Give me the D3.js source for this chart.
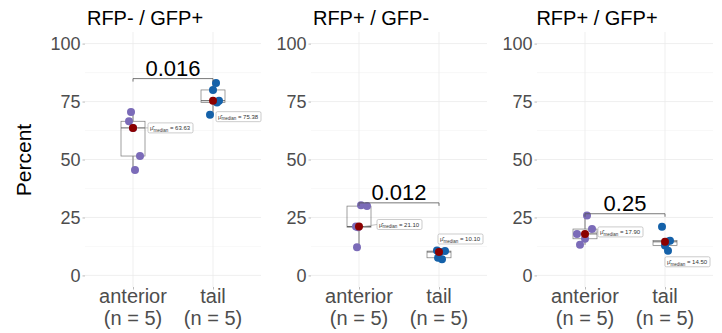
<!DOCTYPE html>
<html>
<head>
<meta charset="utf-8">
<script src="https://cdn.jsdelivr.net/npm/d3@7"></script>
<style>
  body { margin: 0; background: #fff; }
  text { font-family: "Liberation Sans", Arial, sans-serif; }
</style>
</head>
<body>
<div id="chart"></div>
<script>
// data
const panelTitles = ['RFP- / GFP+', 'RFP+ / GFP-', 'RFP+ / GFP+'];
const groups = ['anterior', 'tail'];
const groupCounts = ['(n = 5)', '(n = 5)'];
const anteriorValues = [
    [70.5, 66.5, 63.63, 51.5, 45.5],
    [30.3, 29.9, 21.1, 20.8, 12.2],
    [25.8, 20.0, 17.9, 15.8, 13.2]
];
const tailValues = [
    [83.0, 80.0, 75.38, 74.6, 69.3],
    [10.7, 10.5, 10.1, 7.6, 7.0],
    [21.0, 15.0, 14.5, 12.9, 10.6]
];
const pValues = ['0.016', '0.012', '0.25'];
const bracketLevels = [84.9, 31.3, 26.6];
const yTicks = [0, 25, 50, 75, 100];
const yMinor = [12.5, 37.5, 62.5, 87.5];

// horizontal jitter of the points (px), same order as the values
const anteriorJitter = [[-2, -4, 0, 7, 2], [2, 8, -3, -1, -2], [2, 7, -8, 0, -5]];
const tailJitter = [[3, 0, 6, 4, -3], [-2, 6, 1, -1, 3], [-3, 5, 2, 0, 3]];
// where the median label box sits relative to the median point (px)
const labelOffsets = [
    [[15, 0], [3, 16]],
    [[18, -2], [-1, -13]],
    [[13, -2], [0, 20]]
];

const width = 722;
const height = 333;
const panelLefts = [85, 311, 537];
const panelWidth = 176;
const plotTop = 32;
const plotBottom = 287;
const colors = ['#7b6bb8', '#1461a9'];

const svg = d3.select('#chart').append('svg')
    .attr('width', width)
    .attr('height', height);

// y scale shared by all panels (0..100 plus ggplot-like padding)
const y = d3.scaleLinear()
    .domain([-5, 105])
    .range([plotBottom, plotTop]);

// y axis title
svg.append('text')
    .attr('transform', 'translate(31,160) rotate(-90)')
    .attr('text-anchor', 'middle')
    .style('font-size', '21px')
    .style('fill', '#000')
    .text('Percent');

panelTitles.forEach((title, p) => {
    const left = panelLefts[p];
    const g = svg.append('g');

    // ggplot discrete expansion: 0.6 units on each side, categories 1 unit apart
    const unit = panelWidth / 2.2;
    const x = d3.scalePoint()
        .domain(groups)
        .range([left + 0.6 * unit, left + 1.6 * unit]);

    // grid
    g.selectAll('.minor').data(yMinor).enter().append('line')
        .attr('x1', left).attr('x2', left + panelWidth)
        .attr('y1', d => y(d)).attr('y2', d => y(d))
        .style('stroke', '#f4f4f4').style('stroke-width', 0.6);
    g.selectAll('.major').data(yTicks).enter().append('line')
        .attr('x1', left).attr('x2', left + panelWidth)
        .attr('y1', d => y(d)).attr('y2', d => y(d))
        .style('stroke', '#ebebeb').style('stroke-width', 0.8);
    g.selectAll('.vgrid').data(groups).enter().append('line')
        .attr('x1', d => x(d)).attr('x2', d => x(d))
        .attr('y1', plotTop).attr('y2', plotBottom)
        .style('stroke', '#ebebeb').style('stroke-width', 0.8);

    // y axis
    const yAxis = g.append('g')
        .attr('transform', `translate(${left},0)`)
        .call(d3.axisLeft(y).tickValues(yTicks).tickSize(2.5).tickPadding(2));
    yAxis.select('.domain').remove();
    yAxis.selectAll('line').style('stroke', '#bbb');
    yAxis.selectAll('text')
        .style('font-size', '18px')
        .style('fill', '#4d4d4d')
        .style('font-family', '"Liberation Sans", Arial, sans-serif');

    // x axis
    const xAxis = g.append('g')
        .attr('transform', `translate(0,${plotBottom})`)
        .call(d3.axisBottom(x).tickSize(2.5).tickFormat(''));
    xAxis.select('.domain').remove();
    xAxis.selectAll('line').style('stroke', '#bbb');
    groups.forEach((grp, i) => {
        g.append('text')
            .attr('x', x(grp)).attr('y', 303)
            .attr('text-anchor', 'middle')
            .style('font-size', '20px').style('fill', '#4d4d4d')
            .text(grp);
        g.append('text')
            .attr('x', x(grp)).attr('y', 325)
            .attr('text-anchor', 'middle')
            .style('font-size', '20px').style('fill', '#4d4d4d')
            .text(groupCounts[i]);
    });

    // title
    g.append('text')
        .attr('x', left + panelWidth / 2 - 28)
        .attr('y', 25)
        .attr('text-anchor', 'middle')
        .style('font-size', '20px')
        .style('fill', '#000')
        .text(title);

    const series = [anteriorValues[p], tailValues[p]];
    const jitters = [anteriorJitter[p], tailJitter[p]];
    const boxHalf = 12;

    series.forEach((vals, i) => {
        const cx = x(groups[i]);
        const sorted = vals.slice().sort(d3.ascending);
        const q1 = d3.quantile(sorted, 0.25);
        const q3 = d3.quantile(sorted, 0.75);
        const med = d3.median(sorted);
        const iqr = q3 - q1;
        const lo = d3.min(sorted.filter(v => v >= q1 - 1.5 * iqr));
        const hi = d3.max(sorted.filter(v => v <= q3 + 1.5 * iqr));

        // whiskers
        g.append('line')
            .attr('x1', cx).attr('x2', cx)
            .attr('y1', y(hi)).attr('y2', y(q3))
            .style('stroke', '#555').style('stroke-width', 0.8);
        g.append('line')
            .attr('x1', cx).attr('x2', cx)
            .attr('y1', y(q1)).attr('y2', y(lo))
            .style('stroke', '#555').style('stroke-width', 0.8);
        // box
        g.append('rect')
            .attr('x', cx - boxHalf).attr('width', boxHalf * 2)
            .attr('y', y(q3)).attr('height', y(q1) - y(q3))
            .style('fill', 'none').style('stroke', '#777').style('stroke-width', 0.7);
        g.append('line')
            .attr('x1', cx - boxHalf).attr('x2', cx + boxHalf)
            .attr('y1', y(med)).attr('y2', y(med))
            .style('stroke', '#555').style('stroke-width', 0.9);

        // points
        g.selectAll('.pt' + i).data(vals).enter().append('circle')
            .attr('cx', (d, k) => cx + jitters[i][k])
            .attr('cy', d => y(d))
            .attr('r', 4)
            .style('fill', colors[i]);

        // median point
        g.append('circle')
            .attr('cx', cx).attr('cy', y(med))
            .attr('r', 4)
            .style('fill', '#8b0000');

        // median label
        const off = labelOffsets[p][i];
        const bw = 45, bh = 10;
        const bx = cx + off[0];
        const by = y(med) + off[1] - bh / 2;
        if (Math.abs(off[0]) > 8) {
            g.append('line')
                .attr('x1', cx + 5).attr('x2', bx)
                .attr('y1', y(med)).attr('y2', y(med) + off[1])
                .style('stroke', '#999').style('stroke-width', 0.6);
        }
        g.append('rect')
            .attr('x', bx).attr('y', by)
            .attr('width', bw).attr('height', bh)
            .attr('rx', 1.5)
            .style('fill', '#fff').style('stroke', '#aaa').style('stroke-width', 0.6);
        const t = g.append('text')
            .attr('x', bx + 2).attr('y', by + 7.3)
            .style('font-size', '6px').style('fill', '#333');
        t.append('tspan').text('\u03bc\u0302');
        t.append('tspan').attr('dy', 1.5).style('font-size', '4.5px').text('median');
        t.append('tspan').attr('dy', -1.5).text(' = ' + d3.format('.2f')(med));
    });

    // significance bracket
    const bracketY = y(bracketLevels[p]);
    const xa = x(groups[0]), xb = x(groups[1]);
    g.append('path')
        .attr('d', `M${xa},${bracketY + 3}V${bracketY}H${xb}V${bracketY + 3}`)
        .style('fill', 'none').style('stroke', '#555').style('stroke-width', 0.8);
    g.append('text')
        .attr('x', (xa + xb) / 2)
        .attr('y', bracketY - 3)
        .attr('text-anchor', 'middle')
        .style('font-size', '22px')
        .style('fill', '#000')
        .text(pValues[p]);
});
</script>
</body>
</html>
